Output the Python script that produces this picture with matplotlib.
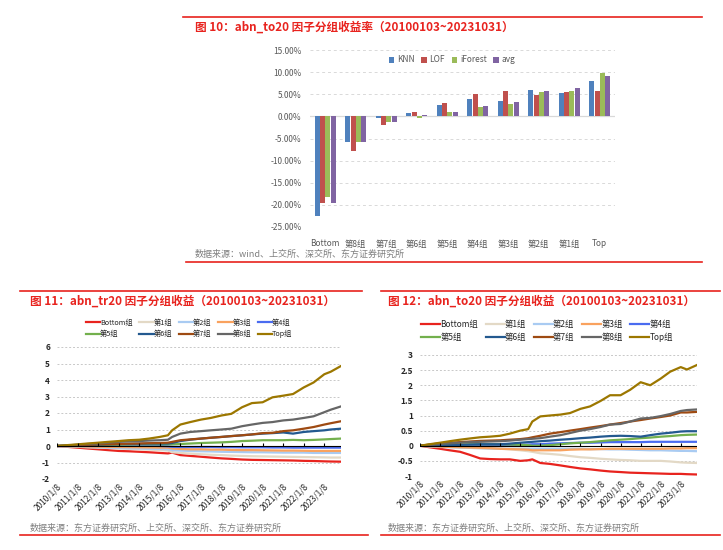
import numpy as np
import pandas as pd
import matplotlib
matplotlib.use("Agg")
import matplotlib.pyplot as plt
import matplotlib.dates as mdates
from matplotlib.lines import Line2D

plt.rcParams['font.family'] = ['Noto Sans CJK SC', 'DejaVu Sans']
plt.rcParams['axes.unicode_minus'] = False

# =========================================================
# DATA
# =========================================================

# --- 图10: bar chart ---
bar_groups = ["Bottom", "第8组", "第7组", "第6组", "第5组", "第4组", "第3组", "第2组", "第1组", "Top"]
bar_series = ["KNN", "LOF", "iForest", "avg"]
knn = [-22.5, -5.7, -0.3, 0.7, 2.6, 4.0, 3.5, 6.0, 5.3, 8.1]
lof = [-19.5, -7.9, -1.9, 1.0, 3.1, 5.0, 5.8, 4.9, 5.5, 5.8]
iforest = [-18.3, -5.8, -1.3, -0.3, 0.9, 2.2, 2.8, 5.6, 5.8, 9.8]
avg = [-19.5, -5.9, -1.3, 0.4, 0.9, 2.3, 3.3, 5.7, 6.5, 9.1]
bar_yticks = [-25, -20, -15, -10, -5, 0, 5, 10, 15]

# --- 图11 / 图12: cumulative group returns ---
dates = ["2010-01-08", "2010-07-01", "2011-01-08", "2011-07-01", "2012-01-08", "2012-07-01",
         "2013-01-08", "2013-07-01", "2014-01-08", "2014-07-01", "2015-01-08", "2015-06-01",
         "2015-08-15", "2016-01-08", "2016-07-01", "2017-01-08", "2017-07-01", "2018-01-08",
         "2018-07-01", "2019-01-08", "2019-07-01", "2020-01-08", "2020-07-01", "2021-01-08",
         "2021-07-01", "2022-01-08", "2022-07-01", "2023-01-08", "2023-05-01", "2023-10-31"]
line_groups = ["Bottom组", "第1组", "第2组", "第3组", "第4组", "第5组", "第6组", "第7组", "第8组", "Top组"]
xtick_dates = ["2010-01-08", "2011-01-08", "2012-01-08", "2013-01-08", "2014-01-08", "2015-01-08",
               "2016-01-08", "2017-01-08", "2018-01-08", "2019-01-08", "2020-01-08", "2021-01-08",
               "2022-01-08", "2023-01-08"]
xtick_labels = ["2010/1/8", "2011/1/8", "2012/1/8", "2013/1/8", "2014/1/8", "2015/1/8", "2016/1/8",
                "2017/1/8", "2018/1/8", "2019/1/8", "2020/1/8", "2021/1/8", "2022/1/8", "2023/1/8"]

tr_bottom = [0, -0.05, -0.1, -0.15, -0.2, -0.25, -0.3, -0.32, -0.35, -0.38, -0.42, -0.45, -0.4, -0.55, -0.6,
             -0.65, -0.7, -0.75, -0.78, -0.82, -0.84, -0.85, -0.86, -0.87, -0.88, -0.9, -0.91, -0.93, -0.94, -0.95]
tr_g1 = [0, -0.03, -0.05, -0.08, -0.1, -0.12, -0.15, -0.17, -0.2, -0.22, -0.25, -0.28, -0.38, -0.42, -0.46,
         -0.5, -0.53, -0.55, -0.58, -0.6, -0.62, -0.63, -0.64, -0.65, -0.66, -0.67, -0.68, -0.69, -0.7, -0.7]
tr_g2 = [0, -0.02, -0.04, -0.06, -0.08, -0.1, -0.12, -0.14, -0.15, -0.17, -0.18, -0.2, -0.25, -0.28, -0.3,
         -0.32, -0.33, -0.35, -0.36, -0.37, -0.38, -0.38, -0.39, -0.4, -0.4, -0.4, -0.42, -0.42, -0.42, -0.42]
tr_g3 = [0, -0.01, -0.02, -0.03, -0.04, -0.05, -0.06, -0.07, -0.08, -0.09, -0.1, -0.1, -0.15, -0.18, -0.2,
         -0.2, -0.22, -0.22, -0.24, -0.25, -0.25, -0.26, -0.27, -0.28, -0.28, -0.29, -0.3, -0.3, -0.3, -0.3]
tr_g4 = [0, 0, 0.01, 0.01, 0.02, 0.02, 0.02, 0.02, 0.02, 0.02, 0.0, -0.02, -0.05, -0.06, -0.06,
         -0.06, -0.06, -0.07, -0.07, -0.08, -0.08, -0.08, -0.09, -0.09, -0.1, -0.1, -0.1, -0.1, -0.1, -0.1]
tr_g5 = [0, 0.02, 0.04, 0.05, 0.06, 0.07, 0.08, 0.09, 0.1, 0.1, 0.1, 0.1, 0.1, 0.12, 0.15,
         0.18, 0.2, 0.22, 0.25, 0.3, 0.32, 0.35, 0.35, 0.35, 0.37, 0.35, 0.37, 0.4, 0.42, 0.45]
tr_g6 = [0, 0.02, 0.04, 0.06, 0.08, 0.1, 0.12, 0.13, 0.14, 0.15, 0.15, 0.15, 0.18, 0.3, 0.38,
         0.45, 0.5, 0.55, 0.6, 0.65, 0.7, 0.75, 0.78, 0.82, 0.75, 0.85, 0.9, 0.95, 1.0, 1.05]
tr_g7 = [0, 0.02, 0.05, 0.07, 0.1, 0.11, 0.12, 0.14, 0.15, 0.17, 0.18, 0.2, 0.25, 0.35, 0.4,
         0.45, 0.5, 0.55, 0.6, 0.65, 0.7, 0.78, 0.8, 0.9, 0.95, 1.05, 1.15, 1.3, 1.38, 1.5]
tr_g8 = [0, 0.03, 0.08, 0.12, 0.15, 0.2, 0.25, 0.28, 0.3, 0.33, 0.35, 0.38, 0.55, 0.75, 0.85,
         0.9, 0.95, 1.0, 1.05, 1.2, 1.3, 1.4, 1.45, 1.55, 1.6, 1.7, 1.8, 2.05, 2.2, 2.4]
tr_top = [0, 0.05, 0.1, 0.15, 0.2, 0.25, 0.3, 0.35, 0.38, 0.45, 0.55, 0.65, 0.95, 1.3, 1.45,
          1.6, 1.7, 1.85, 1.95, 2.35, 2.6, 2.65, 2.95, 3.05, 3.15, 3.55, 3.85, 4.35, 4.5, 4.85]

to_bottom = [0, -0.05, -0.1, -0.15, -0.2, -0.3, -0.42, -0.44, -0.45, -0.45, -0.5, -0.48, -0.45, -0.57, -0.6,
             -0.65, -0.7, -0.75, -0.78, -0.82, -0.85, -0.87, -0.89, -0.9, -0.91, -0.92, -0.93, -0.93, -0.94, -0.95]
to_g1 = [0, -0.02, -0.03, -0.04, -0.05, -0.07, -0.08, -0.09, -0.1, -0.12, -0.15, -0.18, -0.2, -0.25, -0.27,
         -0.3, -0.34, -0.38, -0.4, -0.43, -0.45, -0.47, -0.48, -0.5, -0.5, -0.5, -0.52, -0.55, -0.56, -0.57]
to_g2 = [0, -0.02, -0.04, -0.05, -0.06, -0.07, -0.08, -0.09, -0.1, -0.1, -0.1, -0.1, -0.1, -0.1, -0.1,
         -0.1, -0.1, -0.1, -0.11, -0.11, -0.12, -0.12, -0.13, -0.14, -0.15, -0.15, -0.16, -0.17, -0.17, -0.18]
to_g3 = [0, -0.01, -0.03, -0.04, -0.05, -0.06, -0.07, -0.08, -0.1, -0.11, -0.12, -0.13, -0.15, -0.15, -0.15,
         -0.15, -0.13, -0.12, -0.12, -0.11, -0.1, -0.1, -0.1, -0.1, -0.1, -0.1, -0.09, -0.09, -0.08, -0.08]
to_g4 = [0, 0, 0, 0, 0, 0, 0, 0, 0, 0.02, 0.03, 0.04, 0.05, 0.05, 0.07,
         0.08, 0.09, 0.1, 0.1, 0.11, 0.12, 0.12, 0.12, 0.12, 0.13, 0.13, 0.13, 0.13, 0.13, 0.13]
to_g5 = [0, 0.01, 0.02, 0.03, 0.04, 0.05, 0.05, 0.05, 0.05, 0.04, 0.03, 0.02, 0.0, 0.0, 0.02,
         0.05, 0.08, 0.1, 0.12, 0.15, 0.18, 0.2, 0.22, 0.25, 0.27, 0.3, 0.32, 0.35, 0.36, 0.37]
to_g6 = [0, 0.0, 0.01, 0.02, 0.03, 0.04, 0.05, 0.05, 0.05, 0.07, 0.1, 0.12, 0.13, 0.15, 0.17,
         0.2, 0.22, 0.25, 0.27, 0.3, 0.32, 0.33, 0.32, 0.3, 0.35, 0.4, 0.43, 0.47, 0.48, 0.48]
to_g7 = [0, 0.04, 0.08, 0.1, 0.12, 0.14, 0.16, 0.17, 0.18, 0.2, 0.22, 0.25, 0.28, 0.33, 0.4,
         0.45, 0.5, 0.55, 0.6, 0.65, 0.7, 0.75, 0.8, 0.85, 0.9, 0.95, 1.0, 1.1, 1.1, 1.12]
to_g8 = [0, 0.03, 0.06, 0.08, 0.1, 0.12, 0.13, 0.14, 0.15, 0.17, 0.2, 0.22, 0.23, 0.25, 0.3,
         0.35, 0.42, 0.5, 0.55, 0.62, 0.7, 0.72, 0.8, 0.9, 0.92, 0.98, 1.05, 1.15, 1.18, 1.2]
to_top = [0, 0.05, 0.1, 0.15, 0.2, 0.24, 0.28, 0.3, 0.33, 0.4, 0.5, 0.55, 0.8, 0.97, 1.0,
          1.03, 1.08, 1.22, 1.3, 1.48, 1.67, 1.67, 1.85, 2.1, 2.0, 2.22, 2.45, 2.6, 2.52, 2.67]

# =========================================================
# STYLE
# =========================================================

W, H = 723, 550
RED = "#E8231E"
GRAY_TXT = "#7F7F7F"
bar_colors = ["#4F81BD", "#C0504D", "#9BBB59", "#8064A2"]
line_colors = ["#E8231E", "#E3D9C6", "#A9CBF2", "#F9A25E", "#4A6CF0",
               "#73B04D", "#23598F", "#9E4A12", "#666666", "#9C7700"]


def fx(px):
    return px / W


def fy(py):
    return 1 - py / H


def hline(fig, x0, x1, y):
    fig.add_artist(Line2D([fx(x0), fx(x1)], [fy(y), fy(y)], color=RED, lw=1.2,
                          transform=fig.transFigure))


fig = plt.figure(figsize=(W / 100, H / 100), dpi=100)

# =========================================================
# 图10
# =========================================================

hline(fig, 183, 702, 17)
hline(fig, 186, 702, 262)
fig.text(fx(195), fy(27), "图 10：abn_to20 因子分组收益率（20100103~20231031）",
         color=RED, fontsize=8.4, fontweight="bold", va="center")
fig.text(fx(195), fy(254), "数据来源：wind、上交所、深交所、东方证券研究所",
         color=GRAY_TXT, fontsize=6.5, va="center")

ax = fig.add_axes([fx(310), fy(227), fx(615) - fx(310), fy(50) - fy(227)])
x = np.arange(len(bar_groups))
bw = 0.165
handles = []
for i, (vals, c, name) in enumerate(zip([knn, lof, iforest, avg], bar_colors, bar_series)):
    b = ax.bar(x + (i - 1.5) * 0.172, vals, width=bw, color=c, label=name, zorder=3)
    handles.append(b)
ax.set_xlim(-0.5, len(bar_groups) - 0.5)
ax.set_ylim(-25, 15)
ax.set_yticks(bar_yticks)
ax.set_yticklabels([f"{v:.2f}%" for v in bar_yticks])
ax.set_xticks(x)
ax.set_xticklabels(bar_groups)
ax.tick_params(length=0, labelsize=6, colors="#595959")
ax.tick_params(axis="y", pad=6)
ax.tick_params(axis="x", pad=9)
ax.grid(axis="y", color="#D9D9D9", linestyle=(0, (3, 3)), lw=0.7, zorder=0)
for s in ax.spines.values():
    s.set_visible(False)
ax.axhline(0, color="#D9D9D9", lw=0.9, zorder=2)
ax.legend(handles=handles, loc="center", bbox_to_anchor=(fx(452), fy(60)),
          bbox_transform=fig.transFigure, ncol=4, frameon=False, fontsize=6,
          handlelength=0.7, handleheight=0.7, handletextpad=0.3, columnspacing=0.8,
          labelcolor="#595959")

# =========================================================
# 图11 / 图12
# =========================================================

xd = mdates.date2num(pd.to_datetime(dates))
xt = mdates.date2num(pd.to_datetime(xtick_dates))


def line_panel(rect, series, ylim, yticks, leg_center, leg_fs, leg_hl, leg_cs):
    ax = fig.add_axes(rect)
    lines = []
    for vals, c, name in zip(series, line_colors, line_groups):
        ln, = ax.plot(xd, vals, color=c, lw=1.6, label=name, zorder=3)
        lines.append(ln)
    ax.set_xlim(xd[0], xd[-1])
    ax.set_ylim(*ylim)
    ax.set_yticks(yticks)
    ax.set_yticklabels([f"{v:g}" for v in yticks])
    ax.set_xticks(xt)
    ax.set_xticklabels(xtick_labels, rotation=45, ha="right", va="top", rotation_mode="anchor")
    ax.tick_params(length=0, labelsize=6, colors="#262626")
    ax.tick_params(axis="y", pad=5)
    ax.tick_params(axis="x", pad=2)
    for lab in ax.get_yticklabels():
        lab.set_fontweight("bold")
    ax.grid(axis="y", color="#C8C8C8", linestyle=(0, (2, 2)), lw=0.7, zorder=0)
    for s in ax.spines.values():
        s.set_visible(False)
    ax.axhline(0, color="black", lw=0.8, zorder=4)
    ax.plot(xt, np.zeros(len(xt)), ls="none", marker=2, ms=2.5, mew=0.8, color="black", zorder=4)
    # row-major legend order
    order = [lines[r * 5 + c] for c in range(5) for r in range(2)]
    ax.legend(handles=order, loc="center", bbox_to_anchor=leg_center,
              bbox_transform=fig.transFigure, ncol=5, frameon=False, fontsize=leg_fs,
              handlelength=leg_hl, handletextpad=0.0, columnspacing=leg_cs,
              labelspacing=0.5, labelcolor="#262626")
    return ax


# left
hline(fig, 20, 362, 291)
hline(fig, 20, 368, 535)
fig.text(fx(30), fy(301), "图 11：abn_tr20 因子分组收益（20100103~20231031）",
         color=RED, fontsize=8.4, fontweight="bold", va="center")
fig.text(fx(30), fy(528), "数据来源：东方证券研究所、上交所、深交所、东方证券研究所",
         color=GRAY_TXT, fontsize=6.5, va="center")
line_panel([fx(57), fy(479), fx(341) - fx(57), fy(347) - fy(479)],
           [tr_bottom, tr_g1, tr_g2, tr_g3, tr_g4, tr_g5, tr_g6, tr_g7, tr_g8, tr_top],
           (-2, 6), [-2, -1, 0, 1, 2, 3, 4, 5, 6],
           (fx(189), fy(328.5)), 5.2, 2.0, 0.9)

# right
hline(fig, 381, 720, 291)
hline(fig, 381, 720, 535)
fig.text(fx(388), fy(301), "图 12：abn_to20 因子分组收益（20100103~20231031）",
         color=RED, fontsize=8.4, fontweight="bold", va="center")
fig.text(fx(388), fy(528), "数据来源：东方证券研究所、上交所、深交所、东方证券研究所",
         color=GRAY_TXT, fontsize=6.5, va="center")
line_panel([fx(420), fy(476), fx(697) - fx(420), fy(355) - fy(476)],
           [to_bottom, to_g1, to_g2, to_g3, to_g4, to_g5, to_g6, to_g7, to_g8, to_top],
           (-1, 3), [-1, -0.5, 0, 0.5, 1, 1.5, 2, 2.5, 3],
           (fx(547), fy(331)), 6, 2.3, 0.9)

fig.savefig("out.png", dpi=100)
print("✅ Done")
